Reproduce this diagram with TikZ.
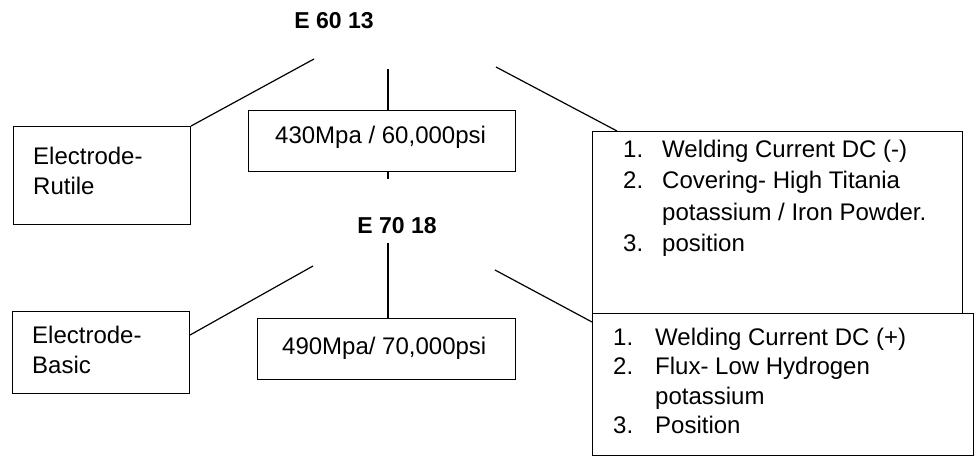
\documentclass[tikz,border=0pt]{standalone}
\usepackage{fontspec}
\setmainfont{Liberation Sans}
\begin{document}
\begin{tikzpicture}[x=1pt,y=-1pt,
  box/.style={draw, line width=1.1pt, inner sep=0pt, anchor=north west},
  txt/.style={anchor=base west, inner sep=0pt, font=\fontsize{24}{30}\selectfont},
  head/.style={anchor=base, inner sep=0pt, font=\fontsize{23}{28}\selectfont\bfseries},
  conn/.style={line width=1.2pt}]
\useasboundingbox (0,0) rectangle (978,463);

% boxes
\node[box, minimum width=177pt, minimum height=98pt] (rutile) at (13,126) {};
\node[box, minimum width=267pt, minimum height=61pt] (m430) at (248,110) {};
\node[box, minimum width=370pt, minimum height=182pt] (b1) at (592,131) {};
\node[box, minimum width=177pt, minimum height=82pt] (basic) at (12,311) {};
\node[box, minimum width=258pt, minimum height=61pt] (m490) at (257,318) {};
\node[box, minimum width=381pt, minimum height=142pt] (b2) at (592,313) {};

% headings
\node[head] (e6013) at (334,28) {E 60 13};
\node[head] (e7018) at (397,233) {E 70 18};

% texts
\node[txt] (trutile) at (33,164) {\begin{tabular}[t]{@{}l@{}}Electrode-\\Rutile\end{tabular}};
\node[txt] (t430) at (275,143) {430Mpa / 60,000psi};
\node[txt] (tbasic) at (32,343) {\begin{tabular}[t]{@{}l@{}}Electrode-\\Basic\end{tabular}};
\node[txt] (t490) at (282,354) {490Mpa/ 70,000psi};
\node[txt, font=\fontsize{24}{31.5}\selectfont] (list1) at (623,157) {\begin{tabular}[t]{@{}p{39pt}@{}l@{}}
1. & Welding Current DC (-)\\
2. & Covering- High Titania\\
   & potassium / Iron Powder.\\
3. & position
\end{tabular}};
\node[txt, font=\fontsize{24}{29.5}\selectfont] (list2) at (613,345) {\begin{tabular}[t]{@{}p{42pt}@{}l@{}}
1. & Welding Current DC (+)\\
2. & Flux- Low Hydrogen\\
   & potassium\\
3. & Position
\end{tabular}};

% connectors, upper group
\coordinate (l1) at (314,59);
\coordinate (v1) at (388,69);
\coordinate (r1) at (496,67);
\draw[conn] (l1) -- (rutile.north east);
\draw[conn] (v1) -- (v1 |- m430.north);
\draw[conn] (v1 |- m430.south) -- ++(0,7);
\draw[conn] (r1) -- ([xshift=25pt]b1.north west);

% connectors, lower group
\coordinate (l2) at (313,266);
\coordinate (v2) at (388,243);
\coordinate (r2) at (495,270);
\draw[conn] (l2) -- ([yshift=-24pt]basic.north east);
\draw[conn] (v2) -- (v2 |- m490.north);
\draw[conn] (r2) -- ([yshift=-9pt]b2.north west);
\end{tikzpicture}
\end{document}
